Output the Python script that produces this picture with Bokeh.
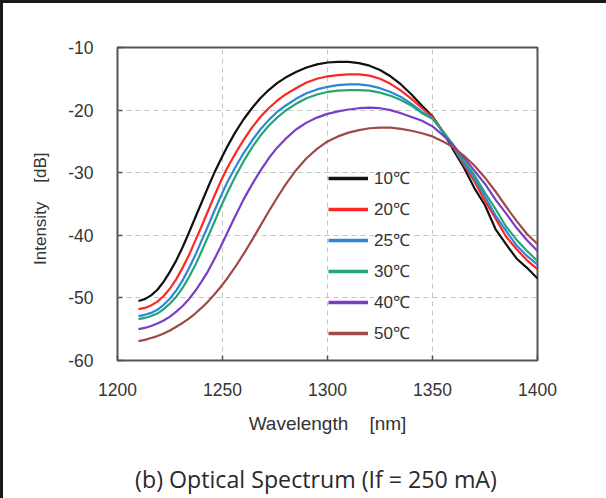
from bokeh.plotting import figure
from bokeh.models import Range1d, Legend, LegendItem, Div, FixedTicker
from bokeh.layouts import column, row
from bokeh.embed import file_html
from bokeh.resources import INLINE

# Emission spectra of the laser at If = 250 mA for six case temperatures
wavelength = [1210, 1213, 1216, 1219, 1222, 1225, 1228, 1231, 1234, 1237,
              1240, 1243, 1246, 1249, 1252, 1256, 1260, 1264, 1268, 1272,
              1276, 1280, 1285, 1290, 1295, 1300, 1305, 1310, 1315, 1320,
              1325, 1330, 1335, 1340, 1345, 1350, 1355, 1360, 1365, 1370,
              1375, 1380, 1385, 1390, 1395, 1400]

t10 = [-50.5, -50.2, -49.6, -48.7, -47.4, -45.8, -44.0, -41.9, -39.6, -37.2,
       -34.8, -32.4, -30.1, -28.0, -26.0, -23.6, -21.5, -19.7, -18.1, -16.8,
       -15.7, -14.8, -13.9, -13.2, -12.7, -12.4, -12.3, -12.3, -12.5, -12.9,
       -13.6, -14.6, -15.9, -17.5, -19.3, -21.0, -23.5, -26.4, -29.2, -32.5,
       -35.2, -39.0, -41.4, -43.7, -45.2, -46.9]
t20 = [-51.8, -51.6, -51.2, -50.6, -49.7, -48.5, -47.0, -45.2, -43.2, -40.9,
       -38.6, -36.2, -33.8, -31.5, -29.4, -27.0, -24.8, -22.8, -21.1, -19.7,
       -18.5, -17.5, -16.5, -15.6, -15.0, -14.6, -14.4, -14.3, -14.3, -14.5,
       -15.0, -15.8, -16.9, -18.2, -19.7, -21.1, -23.4, -26.0, -28.8, -31.4,
       -34.5, -37.3, -40.2, -42.2, -44.0, -45.4]
t25 = [-52.9, -52.7, -52.4, -51.9, -51.1, -50.1, -48.8, -47.2, -45.3, -43.2,
       -40.9, -38.6, -36.2, -33.9, -31.7, -29.2, -26.9, -24.9, -23.1, -21.6,
       -20.3, -19.3, -18.2, -17.3, -16.7, -16.3, -16.0, -15.9, -15.9, -16.1,
       -16.5, -17.1, -17.9, -19.0, -20.3, -21.3, -23.5, -25.9, -28.5, -30.9,
       -33.8, -36.8, -39.3, -41.6, -43.3, -44.7]
t30 = [-53.4, -53.2, -52.9, -52.5, -51.8, -50.9, -49.8, -48.4, -46.7, -44.8,
       -42.6, -40.3, -38.0, -35.6, -33.4, -30.7, -28.2, -26.0, -24.1, -22.5,
       -21.2, -20.1, -19.0, -18.1, -17.5, -17.1, -16.9, -16.8, -16.8, -16.9,
       -17.2, -17.7, -18.4, -19.3, -20.5, -21.4, -23.4, -25.6, -28.1, -30.4,
       -33.2, -35.8, -38.6, -40.7, -42.5, -44.1]
t40 = [-55.0, -54.8, -54.5, -54.1, -53.6, -53.0, -52.2, -51.3, -50.2, -48.9,
       -47.4, -45.8, -43.9, -41.9, -39.8, -37.0, -34.3, -31.9, -29.7, -27.7,
       -26.0, -24.6, -23.1, -22.0, -21.2, -20.6, -20.2, -19.9, -19.7, -19.6,
       -19.7, -20.0, -20.5, -21.1, -21.7, -22.6, -24.0, -25.7, -27.6, -29.7,
       -31.8, -34.3, -36.5, -38.8, -40.8, -42.5]
t50 = [-56.9, -56.7, -56.4, -56.1, -55.7, -55.2, -54.6, -54.0, -53.3, -52.5,
       -51.6, -50.6, -49.5, -48.3, -47.0, -45.1, -43.0, -40.8, -38.5, -36.2,
       -34.0, -31.9, -29.6, -27.7, -26.2, -25.0, -24.2, -23.6, -23.2, -22.9,
       -22.8, -22.8, -23.0, -23.3, -23.7, -24.2, -25.0, -26.0, -27.3, -28.9,
       -30.8, -33.0, -35.4, -37.7, -39.8, -41.4]

series_labels = ["10\u2103", "20\u2103", "25\u2103", "30\u2103", "40\u2103", "50\u2103"]
series_values = [t10, t20, t25, t30, t40, t50]
series_colors = ["#111111", "#ff2626", "#2f86d6", "#22a673", "#7a3ec6", "#a04a48"]

x_ticks = [1200, 1250, 1300, 1350, 1400]
y_ticks = [-60, -50, -40, -30, -20, -10]
y_tick_labels = ["-60", "-50", "-40", "-30", "-20", "-10"]

caption_text = "(b) Optical Spectrum (If = 250 mA)"

FONT = "Liberation Sans"
FRAME = "#555555"
NBSP = "\u00a0"

p = figure(width=603, height=442,
           x_range=Range1d(1200, 1400), y_range=Range1d(-60, -10),
           output_backend="svg", toolbar_location=None,
           min_border_left=114, min_border_top=44,
           min_border_right=69, min_border_bottom=85)
p.background_fill_color = "white"
p.border_fill_color = "white"
p.outline_line_color = FRAME
p.outline_line_width = 2

for ax in (p.xaxis[0], p.yaxis[0]):
    ax.axis_line_color = None
    ax.major_tick_in = 5
    ax.major_tick_out = 0
    ax.major_tick_line_color = FRAME
    ax.major_tick_line_width = 1.5
    ax.minor_tick_line_color = None
    ax.major_label_text_font = FONT
    ax.major_label_text_font_size = "17.5px"
    ax.major_label_text_color = "#363636"
    ax.axis_label_text_font = FONT
    ax.axis_label_text_font_style = "normal"
    ax.axis_label_text_color = "#333333"

p.xaxis.ticker = FixedTicker(ticks=x_ticks)
p.yaxis.ticker = FixedTicker(ticks=y_ticks)
p.yaxis.major_label_overrides = {t: s for t, s in zip(y_ticks, y_tick_labels)}
p.xaxis.major_label_standoff = 22
p.yaxis.major_label_standoff = 24
p.xaxis.axis_label = "Wavelength" + NBSP * 4 + "[nm]"
p.yaxis.axis_label = "Intensity" + NBSP * 4 + "[dB]" + NBSP * 2
p.xaxis.axis_label_text_font_size = "19px"
p.yaxis.axis_label_text_font_size = "17px"
p.xaxis.axis_label_standoff = 14
p.yaxis.axis_label_standoff = 15

for g in (p.xgrid[0], p.ygrid[0]):
    g.grid_line_color = "#c4c4c4"
    g.grid_line_dash = "5 4"
    g.grid_line_width = 1

nan = float("nan")
items = []
for label, ys, color in zip(series_labels, series_values, series_colors):
    p.line(wavelength, ys, line_color=color, line_width=2.2, line_join="round")
    # thicker stroke used only for the legend key
    key = p.line([nan], [nan], line_color=color, line_width=3.5)
    items.append(LegendItem(label=label, renderers=[key]))

legend = Legend(items=items, location=(211, 16),
                glyph_width=40, glyph_height=20, label_height=20,
                spacing=8, padding=0, margin=0, label_standoff=6,
                background_fill_alpha=0, border_line_alpha=0,
                label_text_font=FONT, label_text_font_size="17px",
                label_text_color="#333333")
p.add_layout(legend)

caption = Div(
    text=('<div style="width:580px; margin-left:23px; text-align:center; '
          'padding-top:21px; font-family:\'Open Sans\'; font-size:23.2px; '
          'line-height:26px; color:#2a2a2a; white-space:nowrap;">'
          + caption_text + '</div>'),
    width=603, height=53, margin=0)

top_band = Div(width=606, height=3, margin=0,
               styles={"background-color": "#181818"})
left_band = Div(width=3, height=495, margin=0,
                styles={"background-color": "#181818"})

layout = column(top_band,
                row(left_band, column(p, caption, spacing=0), spacing=0),
                spacing=0)

open("out.html", "w").write(file_html(layout, INLINE))
